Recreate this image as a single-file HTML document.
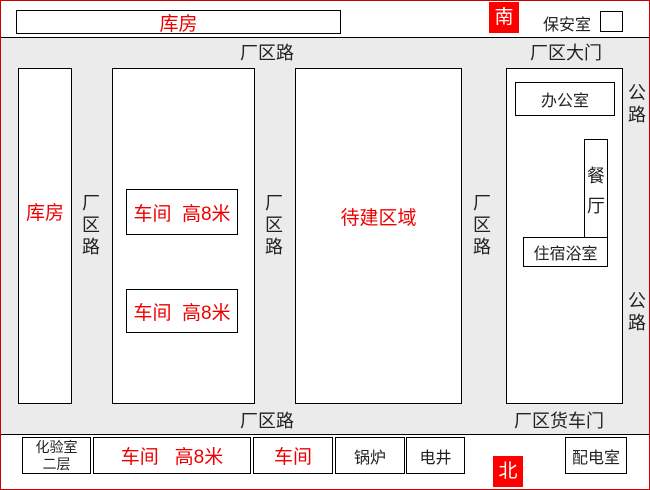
<!DOCTYPE html>
<html><head><meta charset="utf-8"><style>
body{margin:0;width:650px;height:490px;position:relative;overflow:hidden;background:#fff;font-family:"Liberation Sans","Noto Sans CJK SC",sans-serif}
div{position:absolute;box-sizing:border-box}
.b{border:1px solid #000;background:#fff;display:flex;align-items:center;justify-content:center;color:#222}
.r{color:#e00}
.t{color:#222;font-size:18px;line-height:22px;text-align:center}
</style></head><body>
<div style="left:0;top:0;width:650px;height:490px;border:1px solid #c00"></div>
<div style="left:1px;top:37px;width:648px;height:398px;background:#ebebeb;border-top:1px solid #000;border-bottom:1px solid #000"></div>
<div class="b r" style="left:16px;top:10px;width:325px;height:24px;font-size:19px">库房</div>
<div style="left:489px;top:2px;width:30px;height:31px;background:#f00;color:#fff;font-size:19px;text-align:center;line-height:31px">南</div>
<div style="left:543px;top:11px;font-size:16px;color:#222">保安室</div>
<div class="b" style="left:600px;top:11px;width:23px;height:21px"></div>
<div class="t" style="left:240px;top:42px">厂区路</div>
<div class="t" style="left:530px;top:42px">厂区大门</div>
<div class="t" style="left:240px;top:410px">厂区路</div>
<div class="t" style="left:514px;top:410px">厂区货车门</div>
<div class="b r" style="left:18px;top:68px;width:54px;height:336px;font-size:19px;padding-bottom:50px">库房</div>
<div class="t" style="left:80px;top:192px;width:22px">厂<br>区<br>路</div>
<div class="b" style="left:112px;top:68px;width:143px;height:336px"></div>
<div class="b r" style="left:126px;top:189px;width:112px;height:46px;font-size:19px">车间&nbsp;&nbsp;高8米</div>
<div class="b r" style="left:126px;top:289px;width:112px;height:44px;font-size:19px">车间&nbsp;&nbsp;高8米</div>
<div class="t" style="left:263px;top:192px;width:22px">厂<br>区<br>路</div>
<div class="b r" style="left:295px;top:68px;width:167px;height:336px;font-size:19px;padding-bottom:40px">待建区域</div>
<div class="t" style="left:471px;top:192px;width:22px">厂<br>区<br>路</div>
<div class="b" style="left:506px;top:68px;width:117px;height:336px"></div>
<div class="b" style="left:515px;top:82px;width:100px;height:34px;font-size:16px">办公室</div>
<div class="b" style="left:584px;top:139px;width:24px;height:100px;font-size:18px;line-height:30px;align-items:center;padding-top:4px">餐<br>厅</div>
<div class="b" style="left:523px;top:237px;width:85px;height:30px;font-size:16px">住宿浴室</div>
<div class="t" style="left:626px;top:82px;width:22px">公<br>路</div>
<div class="t" style="left:626px;top:290px;width:22px">公<br>路</div>
<div class="b" style="left:22px;top:437px;width:69px;height:37px;font-size:14px;line-height:17px;text-align:center">化验室<br>二层</div>
<div class="b r" style="left:93px;top:437px;width:158px;height:37px;font-size:19px">车间&nbsp;&nbsp;&nbsp;高8米</div>
<div class="b r" style="left:253px;top:437px;width:80px;height:37px;font-size:19px">车间</div>
<div class="b" style="left:335px;top:437px;width:70px;height:37px;font-size:16px">锅炉</div>
<div class="b" style="left:406px;top:437px;width:59px;height:37px;font-size:16px">电井</div>
<div class="b" style="left:565px;top:437px;width:62px;height:37px;font-size:16px">配电室</div>
<div style="left:493px;top:456px;width:30px;height:31px;background:#f00;color:#fff;font-size:19px;text-align:center;line-height:31px">北</div>
</body></html>
